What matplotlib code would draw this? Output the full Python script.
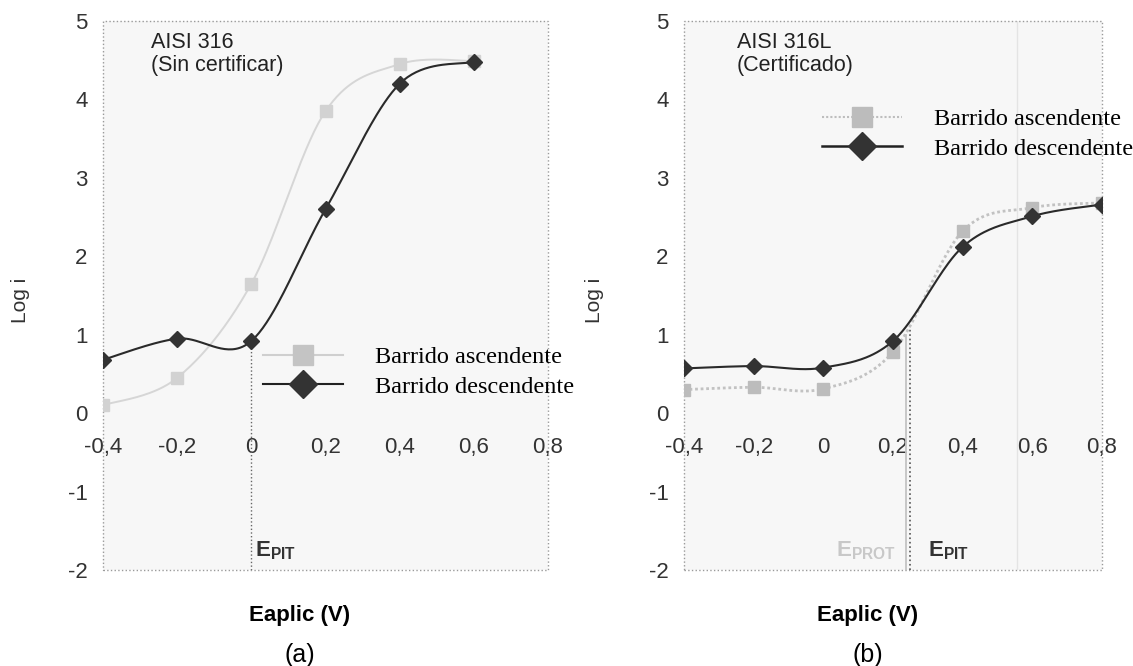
import numpy as np
import matplotlib.pyplot as plt
from matplotlib.lines import Line2D
from matplotlib.patches import Rectangle

plt.rcParams['font.family'] = ['Liberation Sans', 'DejaVu Sans']
plt.rcParams['mathtext.fontset'] = 'custom'
plt.rcParams['mathtext.bf'] = 'Liberation Sans:bold'
plt.rcParams['mathtext.rm'] = 'Liberation Sans'
plt.rcParams['axes.unicode_minus'] = False

# applied potential (V)
e_apl = [-0.4, -0.2, 0.0, 0.2, 0.4, 0.6, 0.8]
x_ticks = [-0.4, -0.2, 0.0, 0.2, 0.4, 0.6, 0.8]
x_labels = ['-0,4', '-0,2', '0', '0,2', '0,4', '0,6', '0,8']
y_ticks = [-2, -1, 0, 1, 2, 3, 4, 5]

# (a) AISI 316, not certified
a_x = [-0.4, -0.2, 0.0, 0.2, 0.4, 0.6]
a_asc = [0.1, 0.45, 1.65, 3.85, 4.45, 4.49]
a_desc = [0.68, 0.95, 0.92, 2.6, 4.2, 4.48]
a_epit = 0.0

# (b) AISI 316L, certified
b_asc = [0.3, 0.33, 0.31, 0.78, 2.32, 2.62, 2.68]
b_desc = [0.57, 0.6, 0.58, 0.92, 2.12, 2.51, 2.66]
b_eprot = 0.238
b_epit = 0.25

legend_labels = ['Barrido ascendente', 'Barrido descendente']


def smooth(x, y, n=40):
    # excel-like smoothed line (catmull-rom as bezier)
    p = np.column_stack([x, y]).astype(float)
    p = np.vstack([p[0], p, p[-1]])
    out = []
    for i in range(1, len(p) - 2):
        p0, p1, p2, p3 = p[i - 1], p[i], p[i + 1], p[i + 2]
        c1 = p1 + (p2 - p0) / 6
        c2 = p2 - (p3 - p1) / 6
        t = np.linspace(0, 1, n)[:, None]
        seg = ((1 - t) ** 3) * p1 + 3 * ((1 - t) ** 2) * t * c1 + 3 * (1 - t) * t ** 2 * c2 + t ** 3 * p2
        out.append(seg)
    out = np.vstack(out)
    return out[:, 0], out[:, 1]


def setup(ax):
    ax.set_xlim(-0.4, 0.8)
    ax.set_ylim(-2, 5)
    ax.set_facecolor('#f7f7f7')
    for s in ax.spines.values():
        s.set_color('none')
    ax.spines['bottom'].set_position(('data', 0))
    ax.set_xticks(x_ticks, x_labels)
    ax.set_yticks(y_ticks)
    ax.tick_params(axis='x', length=0, pad=17, labelsize=16, colors='#333333')
    ax.tick_params(axis='y', length=0, pad=11, labelsize=16, colors='#333333')
    ax.add_patch(Rectangle((0, 0), 1, 1, transform=ax.transAxes, fill=False,
                           ec='#9a9a9a', lw=1.0, ls=':', clip_on=False, zorder=1))


fig = plt.figure(figsize=(11.33, 6.66), dpi=100)
ax1 = fig.add_axes([103 / 1133, 96 / 666, 445 / 1133, 549 / 666])
ax2 = fig.add_axes([684 / 1133, 96 / 666, 418 / 1133, 549 / 666])
setup(ax1)
setup(ax2)

# ---- (a)
ax1.axvline(a_epit, ymin=0, ymax=(a_desc[2] + 2) / 7, color='#666666', lw=1, ls=':', zorder=2)
sx, sy = smooth(a_x, a_asc)
ax1.plot(sx, sy, color='#d6d6d6', lw=1.4, zorder=3)
ax1.plot(a_x, a_asc, 's', color='#d2d2d2', ms=8, zorder=4)
sx, sy = smooth(a_x, a_desc)
ax1.plot(sx, sy, color='#2a2a2a', lw=1.5, zorder=5)
ax1.plot(a_x, a_desc, 'D', color='#333333', ms=8, zorder=6)
ax1.text(a_epit + 0.01, -1.75, r'$\mathbf{E}_{\mathbf{PIT}}$', fontsize=16, va='center', ha='left', color='#333333')
ax1.text(0.108, 0.98, 'AISI 316\n(Sin certificar)', transform=ax1.transAxes, fontsize=15.5,
         va='top', ha='left', linespacing=1.1, color='#222222')

# ---- (b)
ax2.axvline(0.555, color='#e4e4e4', lw=1, zorder=1)
ax2.axvline(b_eprot, ymin=0, ymax=(1.0 + 2) / 7, color='#c4c4c4', lw=1.3, zorder=2)
ax2.axvline(b_epit, ymin=0, ymax=(1.1 + 2) / 7, color='#555555', lw=1.2, ls=':', zorder=2)
sx, sy = smooth(e_apl, b_asc)
ax2.plot(sx, sy, color='#c2c2c2', lw=2, ls=(0, (1, 1)), zorder=3)
ax2.plot(e_apl, b_asc, 's', color='#bcbcbc', ms=9, zorder=4)
sx, sy = smooth(e_apl, b_desc)
ax2.plot(sx, sy, color='#2a2a2a', lw=1.5, zorder=5)
ax2.plot(e_apl, b_desc, 'D', color='#333333', ms=8, zorder=6)
ax2.text(b_eprot - 0.03, -1.75, r'$\mathbf{E}_{\mathbf{PROT}}$', fontsize=16, va='center', ha='right', color='#c8c8c8')
ax2.text(b_epit + 0.05, -1.75, r'$\mathbf{E}_{\mathbf{PIT}}$', fontsize=16, va='center', ha='left', color='#333333')
ax2.text(0.127, 0.98, 'AISI 316L\n(Certificado)', transform=ax2.transAxes, fontsize=15.5,
         va='top', ha='left', linespacing=1.1, color='#222222')

# legends
serif = {'family': 'Liberation Serif', 'size': 17.5}
h_a = [Line2D([], [], color='#cfcfcf', lw=1.5, marker='s', ms=15, mfc='#c4c4c4', mec='#c4c4c4'),
       Line2D([], [], color='#222222', lw=1.5, marker='D', ms=14, mfc='#333333', mec='#333333')]
h_b = [Line2D([], [], color='#bdbdbd', lw=1.5, ls=(0, (1, 1)), marker='s', ms=15, mfc='#bcbcbc', mec='#bcbcbc'),
       Line2D([], [], color='#222222', lw=1.8, marker='D', ms=14, mfc='#333333', mec='#333333')]
for ax, h, pos in [(ax1, h_a, (263 / 1133, 1 - 346 / 666)), (ax2, h_b, (822 / 1133, 1 - 108 / 666))]:
    ax.legend(h, legend_labels, loc='upper left', bbox_to_anchor=pos, bbox_transform=fig.transFigure,
              prop=serif, frameon=False, handlelength=3.3, handletextpad=1.3, labelspacing=0.32,
              borderpad=0, borderaxespad=0)

# axis titles
for xc, yl, tag in [(300, 20, '(a)'), (868, 595, '(b)')]:
    fig.text(yl / 1133, 1 - 300 / 666, 'Log i', rotation=90, ha='center', va='center', fontsize=15, color='#333333')
    fig.text(xc / 1133, 1 - 615 / 666, 'Eaplic (V)', ha='center', va='center', fontsize=16, fontweight='bold')
    fig.text(xc / 1133, 1 - 655 / 666, tag, ha='center', va='center', fontsize=18)

fig.savefig('out.png', dpi=100)
